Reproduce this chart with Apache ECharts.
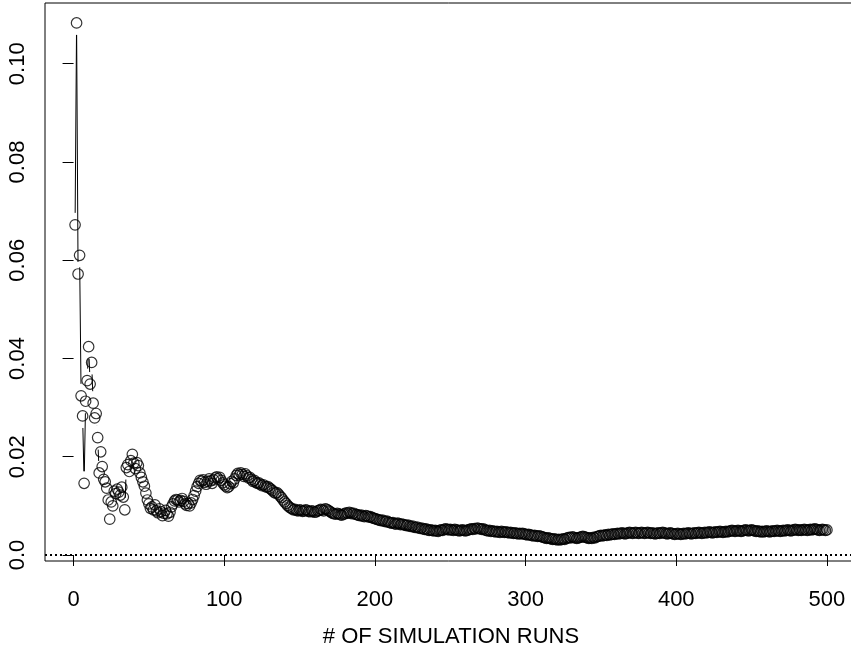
<!DOCTYPE html>
<html>
<head>
<meta charset="utf-8">
<title>Simulation runs</title>
<style>
  * { margin: 0; padding: 0; }
  html, body { background: #fff; }
  #chart-container { width: 851px; height: 651px; }
</style>
</head>
<body>
<div id="chart-container"></div>
<script src="https://cdn.jsdelivr.net/npm/echarts@6/dist/echarts.min.js"></script>
<script>
// values per simulation run (run 1 .. 500)
var runValues = [
  0.0672, 0.1083, 0.0572, 0.0610, 0.0324, 0.0283, 0.0146, 0.0313, 0.0355, 0.0424,
  0.0348, 0.0392, 0.0309, 0.0279, 0.0288, 0.0239, 0.0167, 0.0210, 0.0180, 0.0154,
  0.0149, 0.0136, 0.0112, 0.0073, 0.0108, 0.0100, 0.0130, 0.0125, 0.0134, 0.0128,
  0.0122, 0.0138, 0.0118, 0.0092, 0.0178, 0.0184, 0.0170, 0.0192, 0.0205, 0.0187,
  0.0176, 0.0188, 0.0182, 0.0167, 0.0158, 0.0149, 0.0140, 0.0126, 0.0112, 0.0104,
  0.0095, 0.0098, 0.0092, 0.0102, 0.0090, 0.0086, 0.0094, 0.0088, 0.0080, 0.0085,
  0.0091, 0.0084, 0.0079, 0.0087, 0.0098, 0.0104, 0.0110, 0.0113, 0.0112, 0.0108,
  0.0111, 0.0115, 0.0109, 0.0104, 0.0101, 0.0105, 0.0100, 0.0106, 0.0113, 0.0121,
  0.0130, 0.0139, 0.0146, 0.0152, 0.0150, 0.0153, 0.0148, 0.0144, 0.0150, 0.0155,
  0.0151, 0.0146, 0.0153, 0.0157, 0.0159, 0.0155, 0.0158, 0.0152, 0.0147, 0.0143,
  0.0140, 0.0137, 0.0139, 0.0145, 0.0150, 0.0147, 0.0155, 0.0162, 0.0166, 0.0163,
  0.0167, 0.0164, 0.0160, 0.0165, 0.0161, 0.0157, 0.0158, 0.0154, 0.0150, 0.0152,
  0.0148, 0.0146, 0.0147, 0.0144, 0.0141, 0.0143, 0.0140, 0.0138, 0.0139, 0.0136,
  0.0134, 0.0131, 0.0128, 0.0126, 0.0127, 0.0124, 0.0120, 0.0117, 0.0112, 0.0108,
  0.0105, 0.0101, 0.0098, 0.0096, 0.0094, 0.0092, 0.0093, 0.0091, 0.0090, 0.0092,
  0.0091, 0.0089, 0.0090, 0.0092, 0.0091, 0.0089, 0.0088, 0.0090, 0.0089, 0.0087,
  0.0088, 0.0090, 0.0091, 0.0093, 0.0092, 0.0090, 0.0094, 0.0093, 0.0091, 0.0089,
  0.0087, 0.0085, 0.0084, 0.0083, 0.0085, 0.0084, 0.0082, 0.0081, 0.0083, 0.0084,
  0.0086, 0.0085, 0.0087, 0.0086, 0.0084, 0.0085, 0.0083, 0.0082, 0.0081, 0.0080,
  0.0081, 0.0079, 0.0078, 0.0080, 0.0079, 0.0077, 0.0078, 0.0076, 0.0075, 0.0074,
  0.0073, 0.0072, 0.0071, 0.0070, 0.0071, 0.0069, 0.0068, 0.0069, 0.0067, 0.0066,
  0.0065, 0.0066, 0.0064, 0.0063, 0.0065, 0.0064, 0.0062, 0.0063, 0.0062, 0.0061,
  0.0060, 0.0061, 0.0059, 0.0058, 0.0059, 0.0057, 0.0056, 0.0057, 0.0055, 0.0054,
  0.0055, 0.0053, 0.0052, 0.0053, 0.0051, 0.0050, 0.0051, 0.0050, 0.0049, 0.0050,
  0.0049, 0.0048, 0.0050, 0.0051, 0.0050, 0.0052, 0.0053, 0.0052, 0.0051, 0.0052,
  0.0051, 0.0050, 0.0052, 0.0051, 0.0050, 0.0049, 0.0050, 0.0051, 0.0050, 0.0049,
  0.0050, 0.0051, 0.0052, 0.0053, 0.0052, 0.0054, 0.0053, 0.0055, 0.0054, 0.0053,
  0.0052, 0.0053, 0.0051, 0.0050, 0.0049, 0.0050, 0.0048, 0.0049, 0.0048, 0.0047,
  0.0048, 0.0047, 0.0046, 0.0048, 0.0047, 0.0046, 0.0047, 0.0046, 0.0045, 0.0046,
  0.0045, 0.0044, 0.0045, 0.0044, 0.0043, 0.0044, 0.0043, 0.0044, 0.0043, 0.0042,
  0.0041, 0.0042, 0.0041, 0.0040, 0.0039, 0.0040, 0.0039, 0.0038, 0.0039, 0.0038,
  0.0037, 0.0036, 0.0035, 0.0034, 0.0035, 0.0034, 0.0033, 0.0032, 0.0033, 0.0032,
  0.0031, 0.0032, 0.0031, 0.0032, 0.0033, 0.0032, 0.0034, 0.0035, 0.0036, 0.0035,
  0.0037, 0.0036, 0.0035, 0.0034, 0.0035, 0.0036, 0.0037, 0.0038, 0.0037, 0.0036,
  0.0035, 0.0034, 0.0035, 0.0034, 0.0036, 0.0035, 0.0037, 0.0038, 0.0039, 0.0040,
  0.0039, 0.0040, 0.0041, 0.0040, 0.0042, 0.0041, 0.0042, 0.0043, 0.0042, 0.0043,
  0.0044, 0.0043, 0.0044, 0.0045, 0.0044, 0.0043, 0.0044, 0.0045, 0.0046, 0.0045,
  0.0044, 0.0045, 0.0046, 0.0045, 0.0044, 0.0045, 0.0046, 0.0045, 0.0044, 0.0045,
  0.0046, 0.0045, 0.0044, 0.0045, 0.0044, 0.0043, 0.0044, 0.0045, 0.0044, 0.0045,
  0.0046, 0.0045, 0.0044, 0.0043, 0.0044, 0.0045, 0.0044, 0.0043, 0.0042, 0.0043,
  0.0044, 0.0043, 0.0042, 0.0043, 0.0044, 0.0043, 0.0044, 0.0045, 0.0044, 0.0043,
  0.0044, 0.0045, 0.0044, 0.0045, 0.0046, 0.0045, 0.0044, 0.0045, 0.0046, 0.0045,
  0.0046, 0.0047, 0.0046, 0.0045, 0.0046, 0.0047, 0.0046, 0.0047, 0.0048, 0.0047,
  0.0046, 0.0047, 0.0048, 0.0047, 0.0048, 0.0049, 0.0050, 0.0049, 0.0048, 0.0049,
  0.0050, 0.0049, 0.0048, 0.0049, 0.0050, 0.0051, 0.0050, 0.0049, 0.0050, 0.0051,
  0.0050, 0.0049, 0.0048, 0.0049, 0.0048, 0.0047, 0.0048, 0.0047, 0.0048, 0.0049,
  0.0048, 0.0047, 0.0048, 0.0049, 0.0048, 0.0049, 0.0050, 0.0049, 0.0048, 0.0049,
  0.0050, 0.0049, 0.0050, 0.0051, 0.0050, 0.0049, 0.0050, 0.0051, 0.0052, 0.0051,
  0.0050, 0.0051, 0.0050, 0.0051, 0.0052, 0.0051, 0.0050, 0.0051, 0.0052, 0.0051,
  0.0052, 0.0053, 0.0052, 0.0051, 0.0050, 0.0051, 0.0052, 0.0051, 0.0050, 0.0051
];

var xTicks = [0, 100, 200, 300, 400, 500];
var yTicks = [0, 0.02, 0.04, 0.06, 0.08, 0.10];
var yTickLabels = ['0.0', '0.02', '0.04', '0.06', '0.08', '0.10'];
var xTitle = '# OF SIMULATION RUNS';

var FONT = '"Liberation Sans", Arial, sans-serif';
var GAP = 12; // R type="b": line stops short of each circle

var points = [];
var segments = [];
runValues.forEach(function (v, i) {
  points.push([i + 1, v]);
  if (i > 0) segments.push([i + 1, v, i, runValues[i - 1]]);
});

var dom = document.getElementById('chart-container');
var myChart = echarts.init(dom, null, { renderer: 'canvas' });

var option = {
  backgroundColor: '#fff',
  animation: false,
  grid: {
    left: 45,
    top: 3,
    width: 812,
    height: 558,
    outerBoundsMode: 'none',
    containLabel: false,
    show: true,
    borderColor: '#000',
    borderWidth: 1
  },
  xAxis: {
    type: 'value',
    min: -18.96,
    max: 519.96,
    name: xTitle,
    nameLocation: 'middle',
    nameGap: 65,
    nameTextStyle: { color: '#000', fontSize: 22, fontFamily: FONT },
    axisLine: { show: false },
    splitLine: { show: false },
    axisTick: {
      show: true,
      length: 11,
      customValues: xTicks,
      lineStyle: { color: '#000', width: 1 }
    },
    axisLabel: {
      customValues: xTicks,
      margin: 28,
      color: '#000',
      fontSize: 22,
      fontFamily: FONT
    }
  },
  yAxis: {
    type: 'value',
    min: -0.00122,
    max: 0.11236,
    axisLine: { show: false },
    splitLine: { show: false },
    axisTick: {
      show: true,
      length: 11,
      customValues: yTicks,
      lineStyle: { color: '#000', width: 1 }
    },
    axisLabel: {
      customValues: yTicks,
      rotate: 90,
      margin: 16,
      color: '#000',
      fontSize: 22,
      fontFamily: FONT,
      formatter: function (val) {
        var k = yTicks.findIndex(function (t) { return Math.abs(t - val) < 1e-9; });
        return k >= 0 ? yTickLabels[k] : '';
      }
    }
  },
  series: [
    {
      type: 'custom',
      data: segments,
      encode: { x: 0, y: 1 },
      silent: true,
      renderItem: function (params, api) {
        var p1 = api.coord([api.value(0), api.value(1)]);
        var p0 = api.coord([api.value(2), api.value(3)]);
        var dx = p1[0] - p0[0];
        var dy = p1[1] - p0[1];
        var len = Math.sqrt(dx * dx + dy * dy);
        if (len <= 2 * GAP) return null;
        var ux = dx / len, uy = dy / len;
        return {
          type: 'line',
          shape: {
            x1: p0[0] + ux * GAP, y1: p0[1] + uy * GAP,
            x2: p1[0] - ux * GAP, y2: p1[1] - uy * GAP
          },
          style: { stroke: '#000', lineWidth: 1 }
        };
      }
    },
    {
      type: 'scatter',
      data: points,
      symbol: 'circle',
      symbolSize: 10.5,
      silent: true,
      itemStyle: {
        color: 'rgba(0,0,0,0)',
        borderColor: '#000',
        borderWidth: 1.2
      },
      markLine: {
        silent: true,
        symbol: 'none',
        label: { show: false },
        lineStyle: { color: '#000', width: 2, type: [2, 3] },
        data: [{ yAxis: 0 }]
      }
    }
  ]
};

myChart.setOption(option);
window.addEventListener('resize', myChart.resize);
</script>
</body>
</html>
